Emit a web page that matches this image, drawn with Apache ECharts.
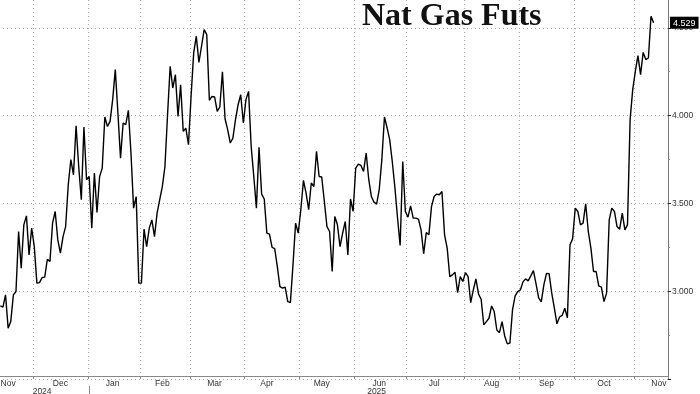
<!DOCTYPE html>
<html><head><meta charset="utf-8">
<script src="https://cdn.jsdelivr.net/npm/echarts@6/dist/echarts.min.js"></script>
<style>html,body{margin:0;padding:0;background:#fff;overflow:hidden;width:700px;height:394px;position:relative}#c{position:absolute;left:0;top:-60px;width:700px;height:454px}</style>
</head><body><div id="c"></div>
<script>
// Trading calendar (category axis = NYMEX trading days)
const startDate = '2024-11-12';
const endDate = '2025-11-19';
const holidays = ['2024-11-28','2024-12-25','2025-01-01','2025-01-09','2025-01-20','2025-02-17','2025-04-18','2025-05-26','2025-06-19','2025-07-04','2025-09-01'];

// Nat gas front-month settlement, one value per trading day from 2024-11-12
const prices = [
2.916,2.909,2.979,2.789,2.827,2.979,2.998,3.340,3.131,3.378,
3.429,3.207,3.359,3.254,3.046,3.049,3.078,3.080,3.182,3.169,
3.388,3.454,3.292,3.217,3.311,3.368,3.606,3.749,3.663,3.942,
3.710,3.521,3.935,3.635,3.653,3.359,3.673,3.448,3.653,3.701,
3.992,3.938,3.967,4.091,4.262,4.015,3.758,3.958,3.948,4.030,
3.787,3.473,3.539,3.046,3.046,3.353,3.254,3.359,3.406,3.311,
3.445,3.521,3.596,3.710,4.005,4.281,4.157,4.233,3.995,4.176,
3.910,3.929,3.834,4.109,4.357,4.452,4.303,4.395,4.490,4.461,
4.087,4.109,4.106,4.024,4.049,4.249,3.982,3.920,3.844,3.872,
3.977,4.062,4.119,3.958,4.091,4.138,3.824,3.653,3.473,3.819,
3.553,3.525,3.331,3.325,3.249,3.243,3.140,3.026,3.017,3.023,
2.941,2.935,3.150,3.388,3.331,3.464,3.631,3.559,3.464,3.616,
3.596,3.796,3.653,3.650,3.511,3.368,3.340,3.112,3.425,3.378,
3.254,3.331,3.397,3.207,3.525,3.454,3.701,3.724,3.716,3.682,
3.787,3.635,3.539,3.507,3.496,3.578,3.749,3.992,3.931,3.863,
3.737,3.589,3.418,3.260,3.739,3.454,3.422,3.486,3.416,3.416,
3.410,3.349,3.213,3.334,3.321,3.482,3.539,3.553,3.549,3.568,
3.321,3.245,3.083,3.093,3.108,2.992,3.083,3.055,3.106,3.083,
2.935,3.007,3.070,2.983,2.954,2.808,2.827,2.846,2.916,2.884,
2.779,2.764,2.827,2.745,2.700,2.705,2.893,2.973,2.998,3.007,
3.053,3.070,3.059,3.087,3.117,3.042,2.962,2.939,3.036,3.101,
3.100,2.990,2.905,2.814,2.853,2.862,2.903,2.848,3.264,3.298,
3.473,3.454,3.378,3.388,3.498,3.340,3.245,3.112,3.112,3.030,
3.023,2.941,2.989,3.406,3.473,3.454,3.368,3.353,3.445,3.349,
3.378,3.977,4.148,4.252,4.342,4.233,4.360,4.319,4.328,4.566,
4.529
];
const lastValue = 4.529;

// Tick labels
const monthNames = ['Jan','Feb','Mar','Apr','May','Jun','Jul','Aug','Sep','Oct','Nov','Dec'];
const monthLabelDates = ['2024-11-15','2024-12-16','2025-01-16','2025-02-13','2025-03-14','2025-04-11','2025-05-13','2025-06-13','2025-07-16','2025-08-15','2025-09-16','2025-10-16','2025-11-14'];
const yearLabelDates = ['2024-12-05','2025-06-12'];
const yearSplitDates = ['2025-01-02'];
const yMin = 2.5, yMax = 5.0, yStep = 0.5;

function tradingDays(s, e, hol) {
  const out = []; const set = new Set(hol);
  const d = new Date(s + 'T00:00:00Z'); const end = new Date(e + 'T00:00:00Z');
  while (d <= end) {
    const w = d.getUTCDay(); const iso = d.toISOString().slice(0, 10);
    if (w !== 0 && w !== 6 && !set.has(iso)) out.push(iso);
    d.setUTCDate(d.getUTCDate() + 1);
  }
  return out;
}
const dates = tradingDays(startDate, endDate, holidays);
const monthStartSet = new Set(dates.filter((d, i) => i > 0 && d.slice(0, 7) !== dates[i - 1].slice(0, 7)));
const labelSet = new Set(monthLabelDates);
const yearLabelSet = new Set(yearLabelDates);
const yearSplitSet = new Set(yearSplitDates);

const FONT = 'Liberation Sans';
const chart = echarts.init(document.getElementById('c'), null, {renderer: 'canvas'});
chart.setOption({
  animation: false,
  backgroundColor: '#fff',
  title: {
    text: 'Nat Gas Futs', left: 357, top: 56,
    textStyle: {fontFamily: 'Liberation Serif', fontWeight: 'bold', fontSize: 32, color: '#111'}
  },
  grid: {left: -1, right: 32, top: 0, bottom: 15, containLabel: false, outerBoundsMode: 'none'},
  xAxis: [{
    type: 'category', data: dates, boundaryGap: true, offset: -3,
    axisLine: {show: true, lineStyle: {color: '#888', width: 1}},
    axisTick: {show: true, length: 3, interval: (i, v) => monthStartSet.has(v), lineStyle: {color: '#888'}},
    splitLine: {show: true, interval: (i, v) => monthStartSet.has(v), lineStyle: {color: '#aaa', type: [1, 3], width: 1}},
    axisLabel: {
      interval: (i, v) => labelSet.has(v),
      formatter: v => monthNames[parseInt(v.slice(5, 7), 10) - 1],
      fontFamily: FONT, fontSize: 8.5, color: '#333', margin: 3
    }
  }, {
    type: 'category', data: dates, boundaryGap: true, position: 'bottom', offset: 7,
    axisLine: {show: false},
    axisTick: {show: true, length: 8, alignWithLabel: true, interval: (i, v) => yearSplitSet.has(v), lineStyle: {color: '#888'}},
    splitLine: {show: false},
    axisLabel: {
      interval: (i, v) => yearLabelSet.has(v),
      formatter: v => v.slice(0, 4),
      fontFamily: FONT, fontSize: 8.5, color: '#333', margin: 1
    }
  }],
  yAxis: {
    type: 'value', position: 'right', min: yMin, max: yMax, interval: yStep,
    axisLine: {show: true, lineStyle: {color: '#777', width: 1}},
    axisTick: {show: true, length: 3, lineStyle: {color: '#222'}},
    minorTick: {show: true, splitNumber: 2, length: 2, lineStyle: {color: '#888'}},
    splitLine: {show: true, lineStyle: {color: '#aaa', type: [1, 3], width: 1}},
    axisLabel: {
      showMinLabel: false,
      formatter: v => v.toFixed(3),
      fontFamily: FONT, fontSize: 8.5, color: '#333', margin: 4
    },
    axisPointer: {
      show: true, type: 'line', value: lastValue, status: 'show', triggerTooltip: false, triggerOn: 'none',
      lineStyle: {opacity: 0},
      label: {
        show: true, formatter: p => Number(p.value).toFixed(3),
        backgroundColor: '#000', color: '#fff', fontFamily: FONT, fontSize: 9,
        padding: [2, 3, 1, 3], margin: 2, borderRadius: 0
      }
    }
  },
  series: [{
    type: 'line', data: prices, xAxisIndex: 0, showSymbol: false, symbol: 'none',
    lineStyle: {color: '#000', width: 1.4}, silent: true
  }]
});
</script>
</body></html>
